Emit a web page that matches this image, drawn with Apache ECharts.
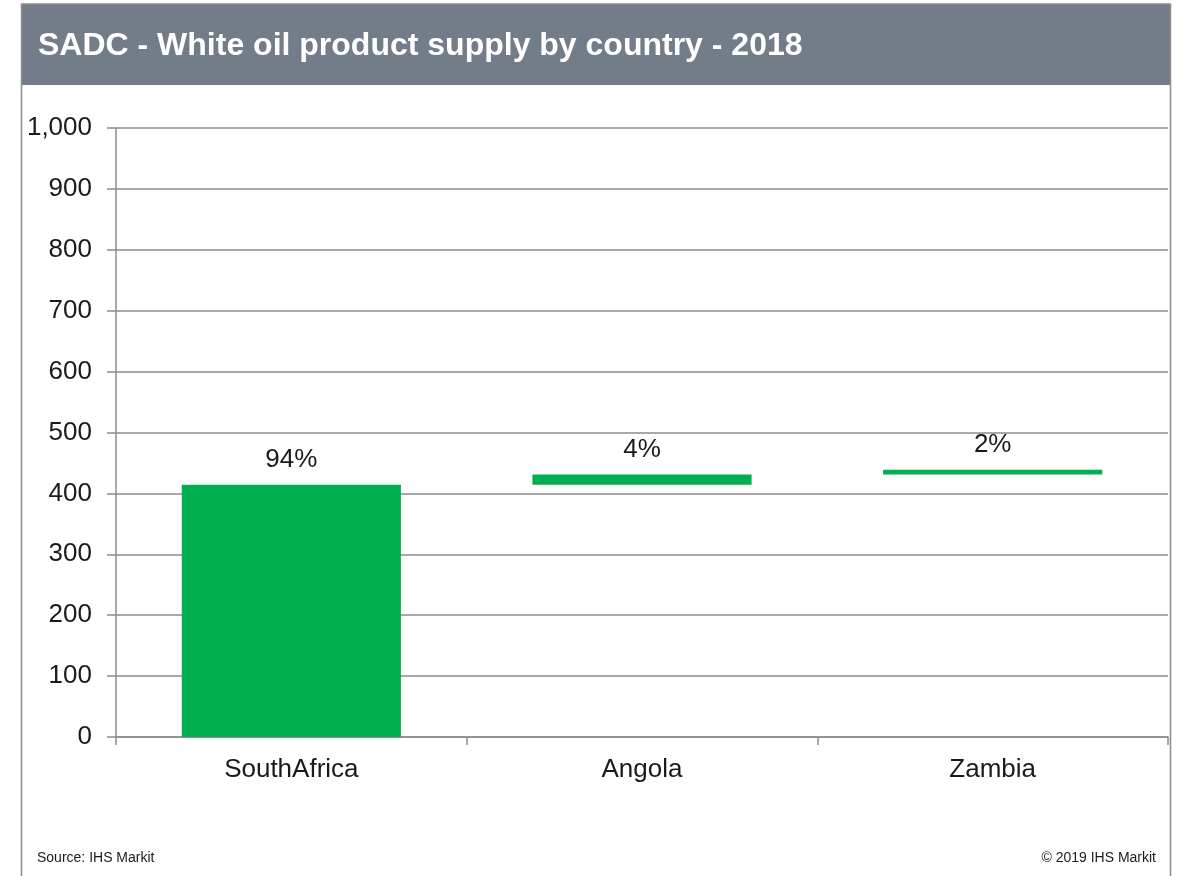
<!DOCTYPE html>
<html>
<head>
<meta charset="utf-8">
<script src="https://cdn.jsdelivr.net/npm/echarts@6/dist/echarts.min.js"></script>
<style>
html,body{margin:0;padding:0;background:#fff;}
#c{width:1181px;height:876px;}
</style>
</head>
<body>
<div id="c"></div>
<script>
var titleText = 'SADC - White oil product supply by country - 2018';
var categories = ['SouthAfrica', 'Angola', 'Zambia'];
var values = [414, 17, 8];
var shareLabels = ['94%', '4%', '2%'];
var yTicks = [0, 100, 200, 300, 400, 500, 600, 700, 800, 900, 1000];
var sourceText = 'Source: IHS Markit';
var copyrightText = '\u00A9 2019 IHS Markit';

// waterfall base: cumulative of preceding values
var base = [];
var acc = 0;
for (var i = 0; i < values.length; i++) { base.push(acc); acc += values[i]; }

var FONT = '"Liberation Sans", Arial, sans-serif';
var LINE = '#8c8c8c';
var chart = echarts.init(document.getElementById('c'), null, {renderer: 'canvas'});
chart.setOption({
  animation: false,
  backgroundColor: '#fff',
  grid: {left: 116, right: 13, top: 128, bottom: 139, containLabel: false},
  xAxis: {
    type: 'category',
    data: categories,
    axisLine: {lineStyle: {color: LINE, width: 1.5}},
    axisTick: {show: true, length: 8, lineStyle: {color: LINE, width: 1.5}},
    axisLabel: {fontFamily: FONT, fontSize: 26, color: '#1a1a1a', margin: 20}
  },
  yAxis: {
    type: 'value',
    min: yTicks[0],
    max: yTicks[yTicks.length - 1],
    interval: 100,
    axisLine: {show: true, lineStyle: {color: LINE, width: 1.5}},
    axisTick: {show: true, length: 9, lineStyle: {color: LINE, width: 1.5}},
    splitLine: {show: true, lineStyle: {color: LINE, width: 1.5}},
    axisLabel: {
      fontFamily: FONT, fontSize: 26, color: '#1a1a1a', margin: 24,
      formatter: function (v) { return v.toLocaleString('en-US'); }
    }
  },
  series: [
    {
      type: 'bar', stack: 'w', data: base,
      itemStyle: {color: 'transparent'},
      emphasis: {disabled: true},
      barWidth: '62.5%'
    },
    {
      type: 'bar', stack: 'w', data: values,
      barWidth: '62.5%',
      itemStyle: {color: '#00B050'},
      label: {
        show: true, position: 'top', distance: 12,
        fontFamily: FONT, fontSize: 26, color: '#1a1a1a',
        formatter: function (p) { return shareLabels[p.dataIndex]; }
      }
    }
  ],
  graphic: [
    {type: 'rect', shape: {x: 21, y: 4, width: 1149, height: 81}, style: {fill: '#737D8A'}, z: 0},
    {type: 'line', shape: {x1: 21.5, y1: 4, x2: 21.5, y2: 876}, style: {stroke: LINE, lineWidth: 1.5}},
    {type: 'line', shape: {x1: 1170.5, y1: 4, x2: 1170.5, y2: 876}, style: {stroke: LINE, lineWidth: 1.5}},
    {type: 'line', shape: {x1: 21, y1: 4, x2: 1171, y2: 4}, style: {stroke: LINE, lineWidth: 1.5}},
    {type: 'text', left: 38, top: 30, style: {text: titleText, fill: '#ffffff', font: 'bold 32px ' + FONT}},
    {type: 'text', left: 37, top: 851, style: {text: sourceText, fill: '#1a1a1a', font: '14px ' + FONT}},
    {type: 'text', right: 1181 - 1156, top: 851, style: {text: copyrightText, fill: '#1a1a1a', font: '14px ' + FONT}}
  ]
});
</script>
</body>
</html>
